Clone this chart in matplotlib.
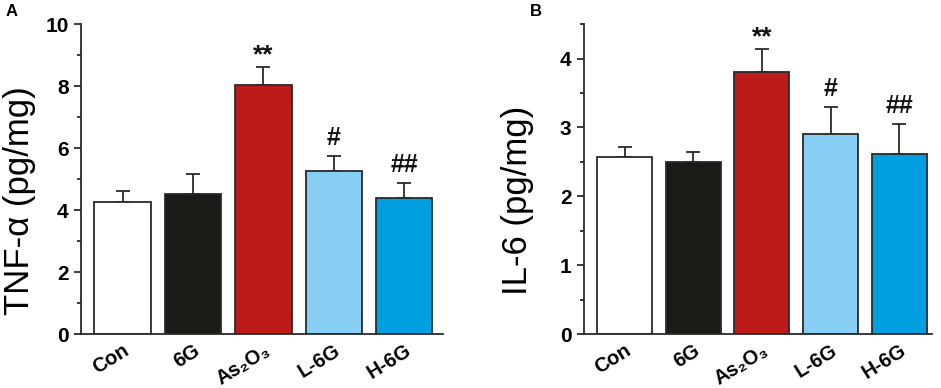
import matplotlib
matplotlib.use("Agg")
import matplotlib.pyplot as plt
from matplotlib.ticker import MultipleLocator

plt.rcParams['font.family'] = ['Liberation Sans', 'DejaVu Sans']

groups = ['Con', '6G', 'As₂O₃', 'L-6G', 'H-6G']
colors = ['#ffffff', '#1b1a17', '#bd1a1a', '#86cef4', '#009fe1']

tnf_mean = [4.26, 4.52, 8.03, 5.26, 4.39]
tnf_err = [0.35, 0.64, 0.58, 0.48, 0.48]
tnf_marks = ['', '', '**', '#', '##']

il6_mean = [2.57, 2.50, 3.81, 2.90, 2.62]
il6_err = [0.15, 0.14, 0.33, 0.39, 0.43]
il6_marks = ['', '', '**', '#', '##']

edge = '#2a2a2a'


def panel(ax, means, errs, marks, ylim, major, ylabel, label_size, label_xy, xlim):
    x = list(range(len(means)))
    ax.bar(x, means, width=0.8, color=colors, edgecolor=edge, linewidth=1.3, zorder=2)
    ax.errorbar(x, means, yerr=[[0] * len(errs), errs], fmt='none', ecolor=edge,
                elinewidth=1.3, capsize=5, capthick=1.3, zorder=1)
    for xi, m, e, mk in zip(x, means, errs, marks):
        if mk:
            gap = 3.5 if mk == '**' else 8
            ax.annotate(mk, (xi, m + e), xytext=(0, gap), textcoords='offset points',
                        ha='center', va='baseline', fontsize=19 if mk == '**' else 18,
                        fontweight='bold', color='#111111')
    ax.set_ylim(*ylim)
    ax.set_xlim(*xlim)
    ax.yaxis.set_major_locator(MultipleLocator(major))
    ax.yaxis.set_minor_locator(MultipleLocator(major / 2))
    ax.spines['top'].set_visible(False)
    ax.spines['right'].set_visible(False)
    for s in ['left', 'bottom']:
        ax.spines[s].set_linewidth(1.3)
        ax.spines[s].set_color(edge)
    ax.tick_params(axis='y', which='major', length=5, width=1.3, color=edge, labelsize=15, pad=4)
    ax.tick_params(axis='y', which='minor', length=3, width=1.3, color=edge)
    ax.tick_params(axis='x', length=0, pad=5)
    for lab in ax.get_yticklabels():
        lab.set_fontweight('bold')
    ax.set_xticks(x)
    ax.set_xticklabels(groups, rotation=32, ha='right', va='top', rotation_mode='anchor',
                       fontsize=14.5, fontweight='bold')
    ax.set_ylabel(ylabel, fontsize=label_size, va='center')
    ax.yaxis.set_label_coords(*label_xy)


fig = plt.figure(figsize=(9.41, 3.88), dpi=100)
axA = fig.add_axes([0.0861, 0.139, 0.3847, 0.799])
axB = fig.add_axes([0.6206, 0.139, 0.3695, 0.799])

panel(axA, tnf_mean, tnf_err, tnf_marks, (0, 10), 2, 'TNF-α (pg/mg)', 25,
      (-0.17, 0.43), (-0.59, 4.55))
panel(axB, il6_mean, il6_err, il6_marks, (0, 4.5), 1, 'IL-6 (pg/mg)', 25,
      (-0.19, 0.43), (-0.59, 4.47))

fig.text(0.006, 0.96, 'A', fontsize=12, fontweight='bold')
fig.text(0.563, 0.958, 'B', fontsize=12, fontweight='bold')

fig.savefig('out.png', dpi=100)
